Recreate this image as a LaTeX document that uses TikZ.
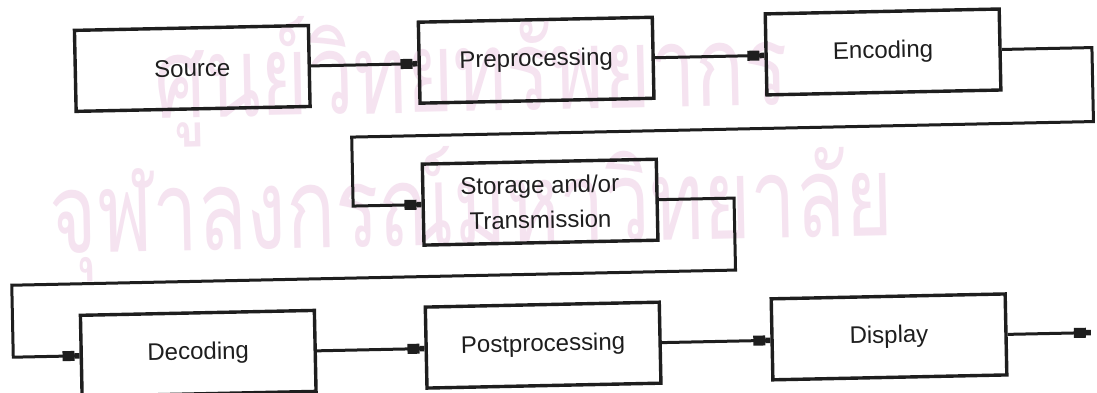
\documentclass[tikz,border=0pt]{standalone}
\usepackage{graphicx}
\usepackage{fontspec}
\setmainfont{Liberation Sans}
\newfontfamily\thaifont[Script=Thai]{Loma}
\usetikzlibrary{arrows.meta}
\definecolor{ink}{RGB}{30,30,30}
\definecolor{wm}{RGB}{245,227,240}
\begin{document}
\begin{tikzpicture}[x=1pt,y=-1pt,
  blk/.style={draw=ink,line width=3.4pt,inner sep=0pt,minimum width=234pt,minimum height=81pt,
    font=\fontsize{24}{35}\selectfont,text=ink,align=center},
  conn/.style={draw=ink,line width=3pt,-{Rectangle[length=12pt,width=10pt,sep=0pt]Rectangle[length=5pt,width=5.5pt]}},
  wmark/.style={text=wm,font=\thaifont\fontsize{112}{112}\selectfont,inner sep=0pt,anchor=base}
]
\useasboundingbox[fill=white] (0,0) rectangle (1097,393);
\begin{scope}[rotate around={1.2:(548,196)},transform shape]
  % watermark
  \node[wmark] (wm1) at (474,110) {\scalebox{0.72}[1]{ศูนย์วิทยทรัพยากร}};
  \node[wmark] (wm2) at (471,243) {\scalebox{0.72}[1]{จุฬาลงกรณ์มหาวิทยาลัย}};
  % blocks
  \node[blk] (src) at (195,61) {Source};
  \node[blk] (pre) at (539,60) {Preprocessing};
  \node[blk] (enc) at (886,59) {Encoding};
  \node[blk] (sto) at (540,202) {Storage and/or\\Transmission};
  \node[blk] (dec) at (195,346) {Decoding};
  \node[blk] (post) at (540,345) {Postprocessing};
  \node[blk] (disp) at (886,344) {Display};
  % helper points
  \coordinate (e1) at (1095,133);
  \coordinate (e2) at (353,133);
  \coordinate (s1) at (734,274);
  \coordinate (s2) at (10,274);
  \coordinate (out) at (1088,344);
  % connectors
  \draw[conn] (src.east) -- (src.east -| pre.west);
  \draw[conn] (pre.east) -- (pre.east -| enc.west);
  \draw[conn] (enc.east) -| (e1) -- (e2) |- (sto.west);
  \draw[conn] (sto.east) -| (s1) -- (s2) |- (dec.west);
  \draw[conn] (dec.east) -- (dec.east -| post.west);
  \draw[conn] (post.east) -- (post.east -| disp.west);
  \draw[conn] (disp.east) -- (out);
\end{scope}
\end{tikzpicture}
\end{document}
